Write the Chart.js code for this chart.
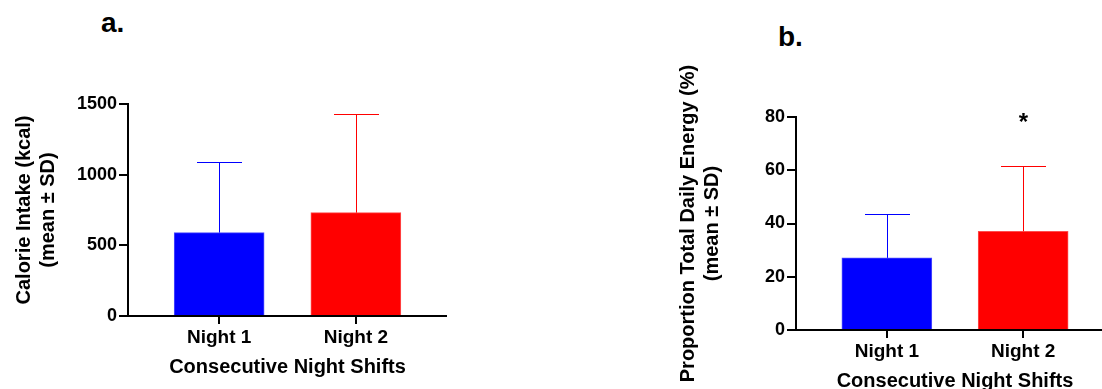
<!DOCTYPE html>
<html>
<head>
<meta charset="utf-8">
<script src="https://cdn.jsdelivr.net/npm/chart.js@4.4.1/dist/chart.umd.min.js"></script>
<style>
  html, body { margin: 0; padding: 0; background: #fff; overflow: hidden; width: 1102px; height: 389px; }
  canvas { position: absolute; top: 0; }
  .tag { position: absolute; font: bold 28px "Liberation Sans", Arial, sans-serif; line-height: 28px; color: #000; }
</style>
</head>
<body>
<div class="tag" style="left:101px; top:9px">a.</div>
<div class="tag" style="left:778px; top:23px">b.</div>
<canvas id="chartA" width="447" height="389" style="left:0px"></canvas>
<canvas id="chartB" width="450" height="403" style="left:664px"></canvas>
<script>
// Groups on the x axis
const categories = ['Night 1', 'Night 2'];
const categoryPositions = [0, 1];

// Panel a: calorie intake (kcal), mean and SD
const calorieMean = [590, 731];
const calorieSD = [498, 696];
const calorieTicks = [0, 500, 1000, 1500];

// Panel b: proportion of total daily energy (%), mean and SD
const energyMean = [27.1, 37.1];
const energySD = [16.6, 24.4];
const energyTicks = [0, 20, 40, 60, 80];

// Significance markers above each group
const calorieMarks = ['', ''];
const energyMarks = ['', '*'];

const barColors = ['#0000ff', '#ff0000'];
const edgeColors = ['#4d4dff', '#ff4d4d'];

const FONT = '"Liberation Sans", Arial, sans-serif';

// Draws SD whiskers (upper only) and significance markers
const errorBars = {
  id: 'errorBars',
  afterDatasetsDraw(chart) {
    const ds = chart.data.datasets[0];
    const xs = chart.scales.x, ys = chart.scales.y;
    const ctx = chart.ctx;
    const capHalf = 22.5;
    ctx.save();
    ctx.lineWidth = 1;
    ds.data.forEach((pt, i) => {
      const x = Math.round(xs.getPixelForValue(pt.x)) + 0.5;
      const yMean = ys.getPixelForValue(pt.y);
      const yTop = Math.round(ys.getPixelForValue(pt.y + ds.sd[i])) + 0.5;
      ctx.strokeStyle = barColors[i];
      ctx.beginPath();
      ctx.moveTo(x, yMean);
      ctx.lineTo(x, yTop);
      ctx.moveTo(x - capHalf, yTop);
      ctx.lineTo(x + capHalf, yTop);
      ctx.stroke();
      if (ds.marks[i]) {
        ctx.fillStyle = '#000';
        ctx.font = 'bold 24px ' + FONT;
        ctx.textAlign = 'center';
        ctx.textBaseline = 'middle';
        ctx.fillText(ds.marks[i], x, chart.chartArea.top + 6);
      }
    });
    ctx.restore();
  }
};

function makeChart(id, means, sds, marks, yTicks, yTitle, topPad, yAxisWidth, xAxisHeight) {
  return new Chart(document.getElementById(id), {
    type: 'bar',
    data: {
      datasets: [{
        data: categoryPositions.map((x, i) => ({ x: x, y: means[i] })),
        sd: sds,
        marks: marks,
        backgroundColor: barColors,
        borderColor: edgeColors,
        borderWidth: 1,
        barThickness: 90
      }]
    },
    options: {
      responsive: false,
      animation: false,
      devicePixelRatio: 1,
      layout: { padding: { top: topPad, left: 0, right: 0, bottom: 0 } },
      plugins: { legend: { display: false }, tooltip: { enabled: false } },
      scales: {
        x: {
          type: 'linear',
          offset: false,
          min: -2 / 3,
          max: 5 / 3,
          afterBuildTicks: s => { s.ticks = categoryPositions.map(v => ({ value: v })); },
          afterFit: s => { s.height = xAxisHeight; },
          ticks: {
            autoSkip: false,
            maxRotation: 0,
            padding: 2,
            color: '#000',
            font: { family: FONT, size: 19, weight: 'bold' },
            callback: v => { const k = categoryPositions.indexOf(v); return k >= 0 ? categories[k] : ''; }
          },
          grid: { offset: false, drawOnChartArea: false, drawTicks: true, tickLength: 8, tickWidth: 2, tickColor: '#000', lineWidth: 2, color: '#000' },
          border: { display: true, color: '#000', width: 2, z: 1 },
          title: {
            display: true,
            text: 'Consecutive Night Shifts',
            color: '#000',
            font: { family: FONT, size: 20, weight: 'bold', lineHeight: 1.2 },
            padding: { top: 0, bottom: 10 }
          }
        },
        y: {
          min: yTicks[0],
          max: yTicks[yTicks.length - 1],
          afterBuildTicks: s => { s.ticks = yTicks.map(v => ({ value: v })); },
          afterFit: s => { s.width = yAxisWidth; },
          ticks: {
            padding: 2,
            color: '#000',
            font: { family: FONT, size: 18, weight: 'bold' },
            callback: v => String(v)
          },
          grid: { drawOnChartArea: false, drawTicks: true, tickLength: 9, tickWidth: 2, tickColor: '#000', lineWidth: 2, color: '#000' },
          border: { display: true, color: '#000', width: 2, z: 1 },
          title: {
            display: true,
            text: [yTitle, '(mean \u00b1 SD)'],
            color: '#000',
            font: { family: FONT, size: 20, weight: 'bold', lineHeight: 1.2 },
            padding: { top: 12, bottom: 0 }
          }
        }
      }
    },
    plugins: [errorBars]
  });
}

makeChart('chartA', calorieMean, calorieSD, calorieMarks, calorieTicks, 'Calorie Intake (kcal)', 104, 128, 73);
makeChart('chartB', energyMean, energySD, energyMarks, energyTicks, 'Proportion Total Daily Energy (%)', 117, 132, 73);
</script>
</body>
</html>
